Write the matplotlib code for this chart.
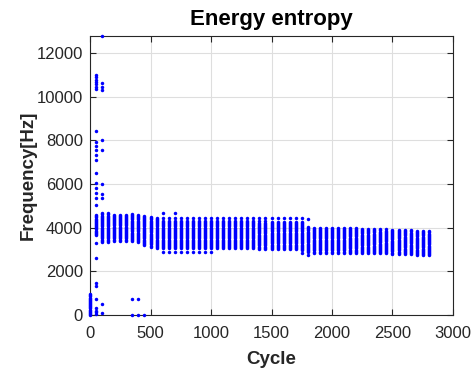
import numpy as np
import matplotlib
matplotlib.use("Agg")
import matplotlib.pyplot as plt

plt.rcParams['font.family'] = ['Liberation Sans', 'DejaVu Sans']

# ---------------- data ----------------
FREQ_STEP = 50.0  # frequency-bin spacing used to fill the dense columns

# dense columns: cycle, top frequency, bottom frequency
col_cycles = [50, 100, 150, 200, 250, 300, 350, 400, 450, 500, 550,
              600, 650, 700, 750, 800, 850, 900, 950, 1000,
              1050, 1100, 1150, 1200, 1250, 1300, 1350, 1400, 1450, 1500,
              1550, 1600, 1650, 1700, 1750, 1800,
              1850, 1900, 1950, 2000, 2050, 2100, 2150, 2200, 2250, 2300,
              2350, 2400, 2450, 2500, 2550, 2600, 2650, 2700, 2750, 2800]
col_hi = [4585, 4630, 4630, 4630, 4630, 4630, 4630, 4600, 4585, 4508, 4480,
          4310, 4310, 4310, 4310, 4310, 4310, 4310, 4310, 4310,
          4310, 4310, 4310, 4310, 4310, 4310, 4310, 4310, 4310, 4310,
          4310, 4310, 4310, 4310, 4310, 4049,
          4049, 4049, 4020, 4020, 4020, 4020, 4020, 4020, 3989, 3989,
          3960, 3943, 3943, 3943, 3930, 3930, 3897, 3880, 3865, 3851]
col_lo = [3670, 3360, 3360, 3407, 3407, 3407, 3380, 3330, 3210, 3132, 3058,
          3058, 3058, 3058, 3058, 3058, 3058, 3058, 3058, 3058,
          3058, 3058, 3058, 3058, 3058, 3058, 3058, 3040, 3040, 3030,
          3030, 3030, 3030, 3030, 2980, 2875,
          2857, 2857, 2857, 2857, 2857, 2857, 2850, 2850, 2840, 2840,
          2835, 2827, 2820, 2815, 2810, 2797, 2780, 2751, 2745, 2736]

# dense low-frequency column at the start
start_cycle = 3
start_hi = 995
start_lo = 0

# isolated points (cycle, frequency)
pt_cycles = [100,
             50, 50, 50, 50, 50, 50, 50, 50, 50, 50, 50, 50, 50, 50, 50,
             100, 100, 100, 100, 100, 100, 100, 100,
             50, 50, 50, 50, 50, 50, 50, 50, 50,
             100, 100,
             350, 400, 350, 400, 450,
             100, 150, 600, 700,
             600, 650, 700, 750, 800, 850, 900, 950, 1000,
             600, 650, 700, 750, 800, 850, 900, 950, 1000, 1050, 1100,
             1150, 1200, 1250, 1300, 1350, 1400, 1450, 1500, 1550, 1600,
             1650, 1700, 1750, 1800,
             1750, 1800]
pt_freqs = [12790,
            11004, 10900, 10790, 10680, 10570, 10460, 10350, 8436, 7918,
            7763, 7565, 7336, 7107, 6497, 6039,
            10624, 10440, 10316, 8024, 7565, 6006, 5548, 5364,
            5809, 5580, 5351, 5044, 3287, 2600, 1453, 1343, 720,
            504, 78,
            734, 734, 20, 20, 20,
            4663, 4663, 4663, 4691,
            2902, 2902, 2902, 2902, 2902, 2902, 2902, 2902, 2902,
            4434, 4434, 4434, 4434, 4434, 4434, 4434, 4434, 4434, 4434,
            4434, 4434, 4434, 4434, 4434, 4434, 4434, 4434, 4434, 4434,
            4434, 4434, 4434, 4434, 4402,
            2857, 2760]
small_cycles = [50, 50, 50, 50]
small_freqs = [307, 200, 120, 40]

x_ticks = [0, 500, 1000, 1500, 2000, 2500, 3000]
y_ticks = [0, 2000, 4000, 6000, 8000, 10000, 12000]

# ---------------- build scatter arrays ----------------
xs, ys = [], []
for c, hi, lo in zip(col_cycles, col_hi, col_lo):
    f = np.arange(lo, hi + 1e-6, FREQ_STEP)
    xs.append(np.full(f.shape, c, dtype=float))
    ys.append(f)
f0 = np.arange(start_lo, start_hi + 1e-6, FREQ_STEP)
xs.append(np.full(f0.shape, start_cycle, dtype=float))
ys.append(f0)
xs.append(np.array(pt_cycles, dtype=float))
ys.append(np.array(pt_freqs, dtype=float))
xs.append(np.array(small_cycles, dtype=float))
ys.append(np.array(small_freqs, dtype=float))
X = np.concatenate(xs)
Y = np.concatenate(ys)

# ---------------- plot ----------------
W, H = 477, 371
fig = plt.figure(figsize=(W / 100, H / 100), dpi=100)
ax = fig.add_axes([90 / W, 1 - 315 / H, (453 - 90) / W, (315 - 36) / H])

ax.plot(X, Y, linestyle='none', marker='o', markersize=2.5,
        markeredgewidth=0, color='#0000ff', clip_on=False, zorder=3)

ax.set_xlim(0, 3000)
ax.set_ylim(0, 12790)
ax.set_xticks(x_ticks)
ax.set_yticks(y_ticks)
ax.set_xticklabels([str(v) for v in x_ticks])
ax.set_yticklabels([str(v) for v in y_ticks])

dark = '#262626'
ax.grid(True, color='#dedede', linewidth=0.8, zorder=0)
ax.set_axisbelow(True)
for s in ax.spines.values():
    s.set_color(dark)
    s.set_linewidth(0.8)
ax.tick_params(direction='in', length=4, width=0.8, color=dark,
               labelcolor=dark, labelsize=12, top=True, right=True)
ax.tick_params(axis='x', pad=8)
ax.tick_params(axis='y', pad=5)

ax.set_title('Energy entropy', fontsize=16, fontweight='bold',
             color='black', pad=8)
ax.set_xlabel('Cycle', fontsize=13.5, fontweight='bold', color=dark,
              labelpad=7)
ax.set_ylabel('Frequency[Hz]', fontsize=13.5, fontweight='bold', color=dark,
              labelpad=0)

fig.savefig('out.png', dpi=100)
